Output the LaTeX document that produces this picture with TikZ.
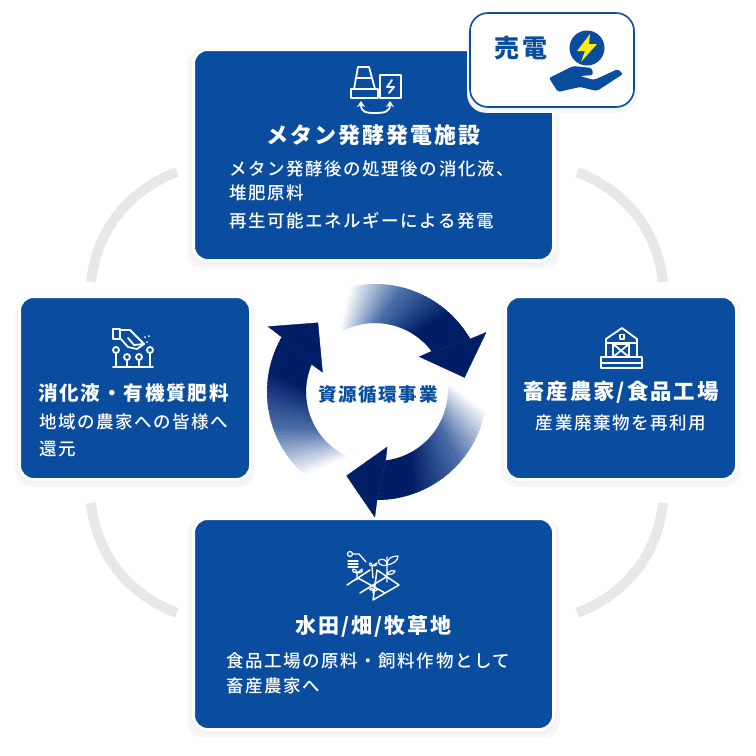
\documentclass[tikz,border=0pt]{standalone}
\usepackage{fontspec}
\usepackage{xcolor}
\newfontfamily\jpfont{Noto Sans CJK JP}[LetterSpace=9]
\newfontfamily\jpmedium{Noto Sans CJK JP Medium}[LetterSpace=9]
\usetikzlibrary{positioning}
\usetikzlibrary{calc}
\usetikzlibrary{shadows}
\usetikzlibrary{arrows.meta}
\definecolor{unitblue}{RGB}{10,76,158}
\definecolor{ringgray}{RGB}{232,232,232}
\definecolor{arrownavy}{RGB}{0,30,102}
\definecolor{arrowmid}{RGB}{70,105,165}
\definecolor{boltyellow}{RGB}{248,236,24}
\tikzset{
  unitbox/.style={fill=unitblue,draw=white,line width=3pt,rounded corners=14pt,
    general shadow={fill=black!3,shadow scale=1.035,shadow yshift=-4pt},
    general shadow={fill=black!4,shadow scale=1.02,shadow yshift=-3pt},
    general shadow={fill=black!6,shadow scale=1.01,shadow yshift=-2pt},inner sep=0pt},
  titletext/.style={text=white,font=\jpfont\bfseries\fontsize{21}{21}\selectfont,inner sep=0pt},
  desctext/.style={text=white,font=\jpmedium\fontsize{17.5}{17.5}\selectfont,inner sep=0pt},
  ringarc/.style={draw=ringgray,line width=10pt},
  iconline/.style={draw=white,line width=1.8pt,line join=round,line cap=round}
}
\begin{document}
\begin{tikzpicture}[x=1pt,y=-1pt]
\useasboundingbox (0,0) rectangle (756,756);
%%%%%%%%%%%%%%
\draw[ringarc] (91,282) .. controls (97,228) and (130,190) .. (177,172);
\draw[ringarc] (663,282) .. controls (657,228) and (624,190) .. (577,172);
\draw[ringarc] (91,503) .. controls (97,557) and (130,595) .. (177,613);
\draw[ringarc] (663,503) .. controls (657,557) and (624,595) .. (577,613);
%%%%%%%%%%%%%%
\node[unitbox,minimum width=360pt,minimum height=211pt] (top) at (373.5,155) {};
\node[unitbox,minimum width=231pt,minimum height=183pt,below left=33pt and -60pt of top.south west] (left) {};
\node[unitbox,minimum width=231pt,minimum height=183pt,below right=33pt and -51pt of top.south east] (right) {};
\node[unitbox,minimum width=360pt,minimum height=211pt,below=255pt of top.south] (bottom) {};
\node[unitbox,fill=white,draw=unitblue,line width=1.6pt,rounded corners=18pt,minimum width=164pt,minimum height=94pt] (sale) at (552,60) {};
%%%%%%%%%%%%%%
\coordinate[below=87pt of top.north] (auxtop1);
\coordinate[below right=121pt and 37pt of top.north west] (auxtop2);
\coordinate[below=24pt of auxtop2] (auxtop3);
\coordinate[below=28pt of auxtop3] (auxtop4);
\node[titletext,font=\jpfont\bfseries\fontsize{22}{22}\selectfont] (toptitle) at (auxtop1) {メタン発酵発電施設};
\node[desctext,anchor=west] (topdesc1) at (auxtop2) {メタン発酵後の処理後の消化液、};
\node[desctext,anchor=west] (topdesc2) at (auxtop3) {堆肥原料};
\node[desctext,anchor=west] (topdesc3) at (auxtop4) {再生可能エネルギーによる発電};
%%%%%%%%%%%%%%
\coordinate[below right=98pt and 20pt of left.north west] (auxleft1);
\coordinate[below right=127pt and 21pt of left.north west] (auxleft2);
\coordinate[below=27pt of auxleft2] (auxleft3);
\node[titletext,anchor=west,font=\jpfont\bfseries\fontsize{19.6}{19.6}\selectfont] (lefttitle) at (auxleft1) {消化液・有機質肥料};
\node[desctext,anchor=west] (leftdesc1) at (auxleft2) {地域の農家への皆様へ};
\node[desctext,anchor=west] (leftdesc2) at (auxleft3) {還元};
%%%%%%%%%%%%%%
\coordinate[below=97pt of right.north] (auxright1);
\coordinate[below=128pt of right.north] (auxright2);
\node[titletext,font=\jpfont\bfseries\fontsize{21.4}{21.4}\selectfont] (righttitle) at (auxright1) {畜産農家/食品工場};
\node[desctext] (rightdesc) at (auxright2) {産業廃棄物を再利用};
%%%%%%%%%%%%%%
\coordinate[below=109pt of bottom.north] (auxbottom1);
\coordinate[below right=144pt and 34pt of bottom.north west] (auxbottom2);
\coordinate[below=25pt of auxbottom2] (auxbottom3);
\node[titletext] (bottomtitle) at (auxbottom1) {水田/畑/牧草地};
\node[desctext,anchor=west] (bottomdesc1) at (auxbottom2) {食品工場の原料・飼料作物として};
\node[desctext,anchor=west] (bottomdesc2) at (auxbottom3) {畜産農家へ};
%%%%%%%%%%%%%%
\foreach \rot/\cx/\cy/\off in {0/375/394/0,-120/377/390/6,-240/377/392/6} {
\begin{scope}[shift={(\cx,\cy)},y=1pt,rotate=\rot]
\foreach \i in {0,...,39} {
  \pgfmathsetmacro{\ta}{\i/40}
  \pgfmathsetmacro{\tb}{min(1,(\i+1.6)/40)}
  \pgfmathsetmacro{\pcta}{min(100,100*(\ta+0.02)/0.4)}
  \pgfmathsetmacro{\pctb}{max(0,min(100,100*(\ta-0.4)/0.35))}
  \fill[arrownavy!\pctb!arrowmid!\pcta!white] ({103+\off-(73+\off)*\ta}:110) -- ({103+\off-(73+\off)*\tb}:110) -- ({119.6+\off-(82.6+\off)*\tb}:71) -- ({119.6+\off-(82.6+\off)*\ta}:71) -- cycle;
}
\fill[arrownavy,draw=arrownavy,line width=0.4pt] (30:110) -- (29:127) -- (10.5:91) -- (40:58) -- (37:71) -- cycle;
\end{scope}
}
\node[text=unitblue,font=\jpfont\bfseries\fontsize{18.5}{18.5}\selectfont,inner sep=0pt] (center) at (378,394) {資源循環事業};
%%%%%%%%%%%%%%
\node[text=unitblue,font=\jpfont\bfseries\fontsize{25}{25}\selectfont,inner sep=0pt] (saletext) at (521,48) {売電};
\fill[unitblue] (587,48) circle (17.5);
\fill[boltyellow] (590,34) -- (577,51) -- (585,51) -- (581,62) -- (597,44) -- (589,44) -- cycle;
\fill[unitblue,rounded corners=2pt] (549,78) -- (573,66) -- (592,68) -- (593,75) -- (580,76) -- (594,80) -- (618,69) -- (623,74) -- (597,91) -- (580,87) -- (558,92) -- cycle;
%%%%%%%%%%%%%%
\draw[iconline] (358,67) -- (369,67) -- (375,89) -- (354,89) -- cycle (356,78) -- (372,78);
\draw[iconline] (351,89) rectangle (378,98);
\draw[iconline] (380,75) rectangle (401,98);
\draw[iconline] (392,80) -- (387,87) -- (394,87) -- (389,93);
\draw[iconline,{Stealth[length=6pt,width=8pt]}-{Stealth[length=6pt,width=8pt]}] (361,101) .. controls (361,112) and (366,113) .. (375,113) .. controls (384,113) and (390,112) .. (390,101);
%%%%%%%%%%%%%%
\draw[iconline] (113,329) rectangle (120,339);
\draw[iconline] (120,330) -- (130,330) -- (144,344) -- (137,349) -- (128,347) -- (120,338);
\draw[iconline] (128,338) -- (134,345) -- (144,344);
\fill[white] (149,336) circle (1) (145,337) circle (1) (147,342) circle (1);
\draw[iconline] (116,350) circle (3) (127,357) circle (3) (139,357) circle (3) (150,350) circle (3);
\draw[iconline] (116,353) -- (116,367) (127,360) -- (127,367) (139,360) -- (139,367) (150,353) -- (150,367) (113,367) -- (153,367);
%%%%%%%%%%%%%%
\draw[iconline] (606,357) -- (606,339) -- (622,328) -- (637,339) -- (637,357);
\draw[iconline] (606,343) -- (637,343);
\draw[iconline] (613,344) rectangle (629,357) (613,344) -- (629,357) (629,344) -- (613,357);
\draw[iconline,line width=1.1pt] (620,334.5) rectangle (624,339);
\draw[iconline] (601,357) rectangle (642,368) (601,363) -- (642,363);
%%%%%%%%%%%%%%
\draw[iconline,line width=1.5pt] (347,585) -- (370,570) (377,570) -- (399,585) -- (373,600) -- cycle;
\draw[iconline,line width=1.5pt] (358,578) -- (385,593) (386,577) -- (360,593);
\draw[iconline,line width=1.3pt] (350,554) circle (2.5) (353,554) -- (359,554) -- (366,562);
\draw[iconline,line width=1.2pt] (348,561) -- (358,561) (348,564) -- (358,564) (348,567) -- (358,567);
\draw[iconline,line width=1.3pt] (357,573) -- (357,580) (372,567) -- (373,578) (387,557) -- (387,582);
\draw[iconline,line width=1.2pt] (357,573) .. controls (351,572) and (352,569) .. (353,569) .. controls (355,569) and (357,570) .. (357,573) .. controls (361,570) and (362,569) .. (362,569) .. controls (363,572) and (361,573) .. (357,573);
\draw[iconline,line width=1.2pt] (372,566) .. controls (369,566) and (369,563) .. (370,563) .. controls (372,563) and (372,564) .. (372,566) .. controls (376,564) and (376,563) .. (377,563) .. controls (377,566) and (375,566) .. (372,566);
\draw[iconline,line width=1.2pt] (387,565) .. controls (380,567) and (377,562) .. (379,560) .. controls (383,558) and (387,560) .. (387,565) .. controls (387,558) and (392,556) .. (398,556) .. controls (398,561) and (393,564) .. (387,565);
\draw[iconline,line width=1.2pt] (387,574) .. controls (390,570) and (393,570) .. (395,571) .. controls (394,574) and (390,575) .. (387,574);
\draw[iconline,line width=1.2pt] (373,590) -- (373,593) (373,590) .. controls (369,591) and (369,588) .. (371,588) .. controls (372,588) and (373,589) .. (373,590) .. controls (374,588) and (378,587) .. (377,590) .. controls (376,591) and (375,591) .. (373,590);
\end{tikzpicture}
\end{document}
